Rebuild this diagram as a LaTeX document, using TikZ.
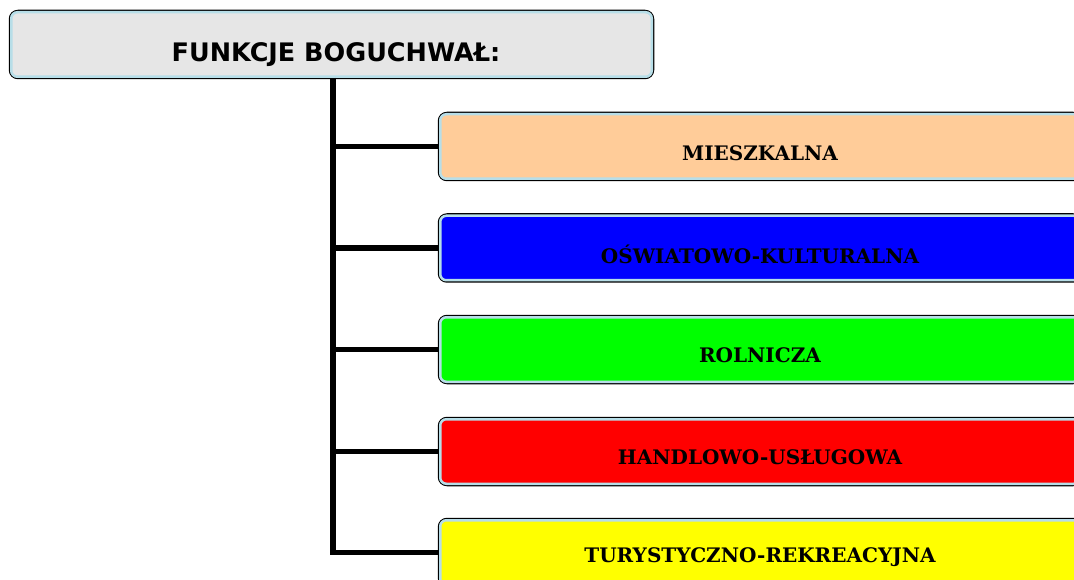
\documentclass[tikz,border=0pt]{standalone}
\usepackage{fontspec}
\newfontfamily\titlefont{DejaVu Sans}
\newfontfamily\boxfont{DejaVu Serif}
\definecolor{lb}{HTML}{B7DEE8}
\definecolor{tgray}{HTML}{E6E6E6}
\definecolor{peach}{HTML}{FFCC99}
\definecolor{vblue}{HTML}{0000FF}
\definecolor{vgreen}{HTML}{00FF00}
\definecolor{vred}{HTML}{FF0000}
\definecolor{vyellow}{HTML}{FFFF00}
\tikzset{
  boxshape/.style={draw=black, line width=2.5pt, rounded corners=8pt, inner sep=0pt, minimum height=67pt},
  titlebox/.style={boxshape, fill=tgray, minimum width=643pt},
  fnbox/.style={boxshape, fill=#1, minimum width=642pt},
  inner/.style={draw=lb, line width=2.5pt, rounded corners=6pt},
  titletext/.style={font=\titlefont\bfseries\fontsize{25.5}{28}\selectfont, inner sep=0pt},
  fntext/.style={font=\boxfont\bfseries\fontsize{20}{22}\selectfont, inner sep=0pt},
  conn/.style={draw=black, line width=5.5pt, line join=miter}
}
\begin{document}
\begin{tikzpicture}[x=1pt,y=-1pt]
\useasboundingbox (0,0) rectangle (1074,580);
\clip (0,0) rectangle (1074,580);
\node[titlebox] (title) at (331.5,44.5) {};
\node[fnbox=peach] (b1) at (760,146.5) {};
\node[fnbox=vblue] (b2) at (760,248) {};
\node[fnbox=vgreen] (b3) at (760,349.5) {};
\node[fnbox=vred] (b4) at (760,451.5) {};
\node[fnbox=vyellow] (b5) at (760,552.5) {};
\foreach \n in {title,b1,b2,b3,b4,b5}{
  \draw[inner] ([shift={(2.5pt,-2.5pt)}]\n.north west) rectangle ([shift={(-2.5pt,2.5pt)}]\n.south east);
}
\node[titletext] (tt) at (336,55) {FUNKCJE BOGUCHWAŁ:};
\node[fntext] (t1) at (760,153) {MIESZKALNA};
\node[fntext] (t2) at (760,254) {OŚWIATOWO-KULTURALNA};
\node[fntext] (t3) at (760,355) {ROLNICZA};
\node[fntext] (t4) at (760,457) {HANDLOWO-USŁUGOWA};
\node[fntext] (t5) at (760,557) {TURYSTYCZNO-REKREACYJNA};
\coordinate (trunk) at (333,78);
\draw[conn] (trunk) |- (b5.west);
\foreach \n in {b1,b2,b3,b4}{
  \draw[conn] (\n.west -| trunk) -- (\n.west);
}
\end{tikzpicture}
\end{document}
